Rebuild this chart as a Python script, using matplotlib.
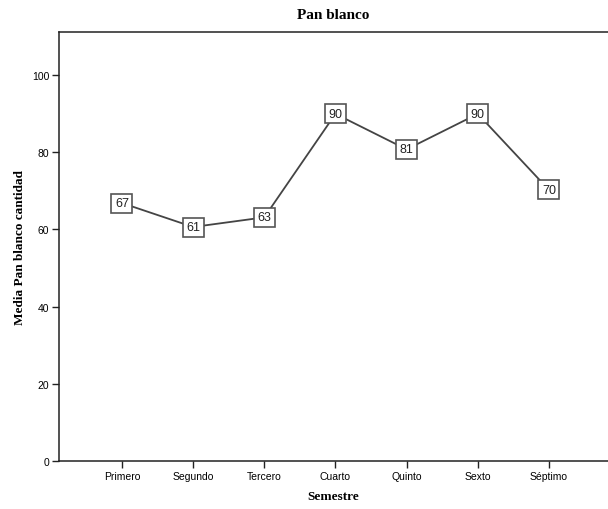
import matplotlib
matplotlib.use("Agg")
import matplotlib.pyplot as plt

semestres = ["Primero", "Segundo", "Tercero", "Cuarto", "Quinto", "Sexto", "Séptimo"]
media = [66.8, 60.6, 63.1, 89.9, 80.7, 89.9, 70.2]

fig = plt.figure(figsize=(6.08, 5.10), dpi=100)
ax = fig.add_axes([59 / 608, 48 / 510, 1 - 59 / 608, (462 - 33) / 510])

x = list(range(1, len(semestres) + 1))
ax.plot(x, media, color="#444444", lw=1.3, zorder=2)

for xi, v in zip(x, media):
    ax.text(xi, v, "%d" % round(v), ha="center", va="center",
            fontsize=9, family="Liberation Sans", color="#222222", zorder=3,
            bbox=dict(boxstyle="square,pad=0.28", fc="white", ec="#555555", lw=1.2))

ax.set_xlim(0.115, 7.83)
ax.set_ylim(0, 111.1)
ax.set_xticks(x)
ax.set_xticklabels(semestres, family="Liberation Sans", fontsize=7.5)
ax.set_yticks([0, 20, 40, 60, 80, 100])
ax.set_yticklabels(["0", "20", "40", "60", "80", "100"], family="Liberation Sans", fontsize=7.5)
ax.tick_params(axis="both", direction="out", length=5, width=1, color="#222222", pad=2)

ax.spines["right"].set_visible(False)
for s in ["left", "top", "bottom"]:
    ax.spines[s].set_linewidth(1.1)
    ax.spines[s].set_color("#222222")

ax.set_title("Pan blanco", family="Liberation Serif", fontweight="bold", fontsize=11, pad=10)
ax.set_xlabel("Semestre", family="Liberation Serif", fontweight="bold", fontsize=9.5, labelpad=7)
ax.set_ylabel("Media Pan blanco cantidad", family="Liberation Serif", fontweight="bold", fontsize=9.5, labelpad=4)

fig.savefig("out.png", dpi=100)
